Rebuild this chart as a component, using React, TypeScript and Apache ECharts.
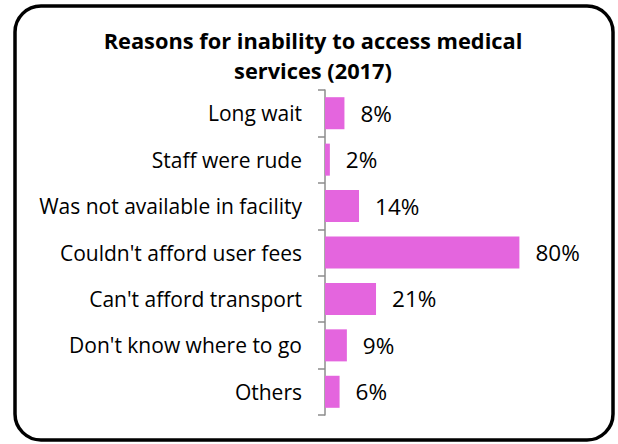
import React, { useEffect, useRef } from "react";
import * as echarts from "echarts";

const titleText = "Reasons for inability to access medical\nservices (2017)";
const categories = [
  "Long wait",
  "Staff were rude",
  "Was not available in facility",
  "Couldn't afford user fees",
  "Can't afford transport",
  "Don't know where to go",
  "Others",
];
const values = [8, 2, 14, 80, 21, 9, 6];

export default function App() {
  const ref = useRef<HTMLDivElement>(null);
  useEffect(() => {
    if (!ref.current) return;
    const chart = echarts.init(ref.current, null, { renderer: "svg" });
    chart.setOption({
      animation: false,
      backgroundColor: "#ffffff",
      graphic: [
        {
          type: "text",
          x: 313,
          y: 55,
          style: {
            text: titleText,
            fontFamily: "Open Sans",
            fontWeight: "bold",
            fontSize: 21.8,
            lineHeight: 30,
            fill: "#000",
            textAlign: "center",
            textVerticalAlign: "middle",
          },
          z: 10,
        },
        {
          type: "rect",
          shape: { x: 15, y: 6, width: 598, height: 434, r: 26 },
          style: { fill: "none", stroke: "#000", lineWidth: 3.5 },
          z: 10,
        },
      ],
      grid: { left: 325, top: 90, right: 50, bottom: 29, containLabel: false },
      xAxis: {
        type: "value",
        min: 0,
        max: 100,
        show: false,
      },
      yAxis: {
        type: "category",
        inverse: true,
        data: categories,
        axisLine: { show: true, lineStyle: { color: "#8c8c8c", width: 1.5 } },
        axisTick: { show: true, length: 7, lineStyle: { color: "#8c8c8c", width: 1.5 } },
        axisLabel: {
          margin: 23,
          fontFamily: "Open Sans",
          fontSize: 21,
          color: "#000",
        },
      },
      series: [
        {
          type: "bar",
          data: values,
          barCategoryGap: "31%",
          itemStyle: { color: "#E465DE" },
          label: {
            show: true,
            position: "right",
            distance: 16,
            formatter: "{c}%",
            fontFamily: "Open Sans",
            fontSize: 22.5,
            color: "#000",
          },
        },
      ],
    });
    return () => chart.dispose();
  }, []);
  return (
    <div
      ref={ref}
      style={{ position: "fixed", left: 0, top: 0, width: 618, height: 444 }}
    />
  );
}
